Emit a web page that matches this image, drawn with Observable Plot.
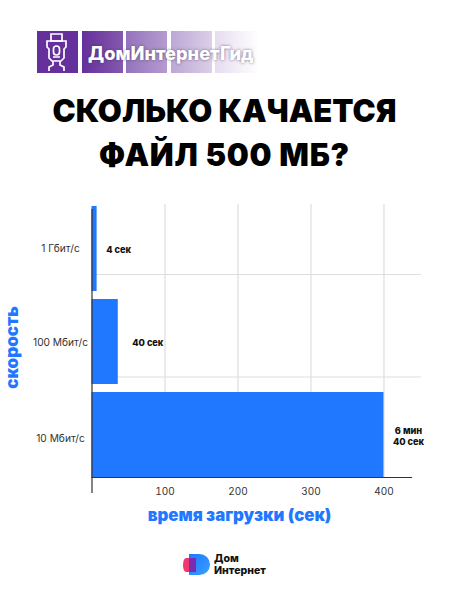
<!DOCTYPE html>
<html lang="ru">
<head>
<meta charset="utf-8">
<script src="https://cdn.jsdelivr.net/npm/d3@7"></script>
<script src="https://cdn.jsdelivr.net/npm/@observablehq/plot@0.6"></script>
<style>
html,body{margin:0;padding:0;background:#fff;}
body{position:relative;width:449px;height:600px;overflow:hidden;font-family:Inter,"Open Sans",sans-serif;}
.abs{position:absolute;}
.sq{position:absolute;top:31px;width:41px;height:42px;}
#brand{left:88px;top:42px;color:#fff;font:800 18.2px/22px Inter,sans-serif;text-shadow:0 0 3px rgba(60,45,80,.7);white-space:nowrap;}
#title{left:0;top:89px;width:449px;text-align:center;color:#000;font:900 31px/44px Inter,sans-serif;}
#title span{letter-spacing:.75px;}
#chart{left:0;top:196px;}
#xlabel{left:0;top:505px;width:479px;text-align:center;color:#1f78ff;font:900 16.8px/20px Inter,sans-serif;}
#foot{left:214px;top:553px;color:#111;font:800 10.6px/12px Inter,sans-serif;}
</style>
</head>
<body>
<div class="sq" style="left:37px;background:#65309b"></div>
<div class="sq" style="left:82px;background:linear-gradient(90deg,#65309b,#8459ae)"></div>
<div class="sq" style="left:126px;background:linear-gradient(90deg,#9573bd,#b49bcf)"></div>
<div class="sq" style="left:171px;background:linear-gradient(90deg,#bca7d6,#dccfe7)"></div>
<div class="sq" style="left:215px;width:44px;background:linear-gradient(90deg,#e6dcef,#ffffff)"></div>
<svg class="abs" style="left:37px;top:31px" width="41" height="42" viewBox="0 0 41 42" fill="none" stroke="#fff" stroke-width="1.7" aria-hidden="true">
<path d="M14 3h11v7h-11z"/><path d="M10 10h19v6l-2 2v9l-3 3h-9l-3-3v-9l-2-2z"/>
<rect x="16.500" y="15" width="6" height="9" rx="3"/><path d="M16 26h7M16 30v4l-4 2v4M23 30v4l4 2v4"/>
</svg>
<div class="abs" id="brand">ДомИнтернетГид</div>
<div class="abs" id="title">СКОЛЬКО КАЧАЕТСЯ<br><span>ФАЙЛ 500 МБ?</span></div>
<div class="abs" id="chart"></div>
<div class="abs" id="xlabel">время загрузки (сек)</div>
<svg class="abs" style="left:180px;top:550px" width="34" height="28" viewBox="0 0 34 28" aria-hidden="true">
<defs><linearGradient id="b" x1="0" y1="0" x2="1" y2="1"><stop offset="0" stop-color="#1f78ff"/><stop offset="1" stop-color="#38a0ff"/></linearGradient></defs>
<path d="M9 4h10.500a10.500 10.500 0 0 1 0 21h-10.500z" fill="url(#b)"/>
<path d="M6 8h10v14h-10a3 7 0 0 1 -3-7a3 7 0 0 1 3-7z" fill="#f0245f" opacity=".9"/>
<path d="M9 8h7v14h-7z" fill="#7a2bb0"/>
</svg>
<div class="abs" id="foot">Дом<br>Интернет</div>
<script>
const speeds = ["1 Гбит/с", "100 Мбит/с", "10 Мбит/с"];
// bar lengths as drawn in the picture
const seconds = [7, 36, 400];
const valueLabels = ["4 сек", "40 сек", "6 мин\n40 сек"];
const labelOffsets = [21.5, 29.5, 24.5];
const labelShifts = [0, 0, 1];
const tickShifts = [0, 0.5, 4];
const xTicks = [100, 200, 300, 400];
const yTitle = "скорость";

const rows = speeds.map((s, i) => ({speed: s, sec: seconds[i], label: valueLabels[i], off: labelOffsets[i], shift: labelShifts[i], tickShift: tickShifts[i]}));
const ink = "#1f78ff";
const font = "Inter, sans-serif";

const chart = Plot.plot({
  width: 449,
  height: 310,
  marginLeft: 91.5,
  marginRight: 38,
  marginTop: 10,
  marginBottom: 29,
  style: {background: "transparent", overflow: "visible", fontFamily: font},
  x: {domain: [0, 437.7], ticks: xTicks, label: null},
  y: {domain: speeds, paddingInner: 0.086, paddingOuter: 0, align: 0.5, round: false, label: null, axis: null},
  marks: [
    Plot.ruleX(xTicks, {stroke: "#dedede", strokeWidth: 1.2, insetTop: -2}),
    Plot.ruleY([speeds[0]], {x1: 0, x2: 451, stroke: "#dedede", strokeWidth: 1, dy: 25.5}),
    Plot.ruleY([speeds[1]], {x1: 0, x2: 451, stroke: "#dedede", strokeWidth: 1, dy: 35}),
    Plot.barX(rows, {x: "sec", y: "speed", fill: ink}),
    Plot.ruleX([0], {stroke: "#333", strokeWidth: 1.2, insetTop: 3, insetBottom: -16}),
    Plot.axisX({ticks: xTicks, tickSize: 0, tickPadding: 10, label: null, fontSize: 10, fill: "#333", fontFamily: font}),
    Plot.frame({anchor: "bottom", stroke: "#333", strokeWidth: 1.2}),
    ...rows.map(r => Plot.text([r], {x: 0, y: "speed", text: "speed", dx: -31.5, dy: r.tickShift, textAnchor: "middle", fontSize: 10.2, fill: "#333", fontFamily: font})),
    ...rows.map(r => Plot.text([r], {x: "sec", y: "speed", text: "label", dx: r.off, dy: r.shift, textAnchor: "middle", fontSize: 9.2, fontWeight: 800, fill: "#111", lineHeight: 1.2, fontFamily: font})),
    Plot.text([yTitle], {frameAnchor: "left", textAnchor: "middle", rotate: -90, text: d => d, dx: -79.5, dy: 5.5, fontSize: 17, fontWeight: 900, fill: ink, fontFamily: font})
  ]
});
document.getElementById("chart").appendChild(chart);
</script>
</body>
</html>
